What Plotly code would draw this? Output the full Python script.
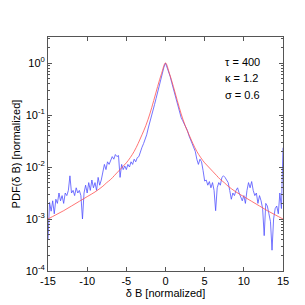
import numpy as np
import plotly.graph_objects as go

# Blue: empirical PDF, read as log10(PDF) at dB = -15 ... 15 step 0.2
blue_db = [round(-15 + 0.2 * i, 1) for i in range(151)]
blue_log10_pdf = [
    -3.40, -2.68, -2.85, -2.65, -2.90, -2.62, -2.70, -2.50, -2.65, -2.55,   # -15.0 .. -13.2
    -2.70, -2.50, -2.55, -2.45, -2.17, -2.50, -2.45, -2.55, -2.40, -2.50,   # -13.0 .. -11.2
    -2.45, -2.55, -3.00, -2.50, -2.35, -2.50, -2.30, -2.45, -2.25, -2.40,   # -11.0 .. -9.2
    -2.30, -2.45, -2.20, -2.35, -2.25, -2.10, -1.95, -2.05, -1.90, -1.95,   # -9.0 .. -7.2
    -1.85, -1.80, -1.85, -1.76, -1.80, -1.78, -2.20, -1.95, -2.05, -1.98,   # -7.0 .. -5.2
    -2.05, -1.95, -2.00, -1.90, -1.95, -1.85, -1.90, -1.82, -1.80, -1.70,   # -5.0 .. -3.2
    -1.62, -1.55, -1.48, -1.38, -1.25, -1.15, -1.05, -0.92, -0.80, -0.68,   # -3.0 .. -1.2
    -0.55, -0.42, -0.30, -0.18, -0.08, 0.00, -0.08, -0.16, -0.26, -0.38,    # -1.0 .. 0.8
    -0.50, -0.62, -0.74, -0.86, -0.98, -1.05, -1.11, -1.17, -1.23, -1.30,   # 1.0 .. 2.8
    -1.40, -1.47, -1.53, -1.60, -1.70, -1.85, -1.95, -1.85, -1.90, -2.07,   # 3.0 .. 4.8
    -2.27, -2.25, -2.35, -2.28, -2.40, -2.30, -2.45, -2.84, -2.40, -2.30,   # 5.0 .. 6.8
    -2.35, -2.20, -2.17, -2.20, -2.25, -2.30, -2.45, -2.62, -2.50, -2.55,   # 7.0 .. 8.8
    -2.45, -2.40, -2.50, -2.58, -2.65, -2.55, -2.70, -2.45, -2.30, -2.40,   # 9.0 .. 10.8
    -2.28, -2.45, -2.55, -2.50, -2.70, -2.55, -2.65, -2.80, -3.32, -2.70,   # 11.0 .. 12.8
    -2.75, -2.90, -3.05, -3.60, -3.00, -2.80, -2.75, -2.90, -2.50, -2.80,   # 13.0 .. 14.8
    -1.63,                                                                   # 15.0
]

# Red: model fit, read as log10(PDF)
red_db = [-15, -14, -13, -12, -11, -10, -9, -8, -7.5, -7, -6.5, -6, -5.5, -5, -4.5,
          -4, -3.5, -3, -2.5, -2, -1.5, -1, -0.5, 0,
          0.5, 1, 1.5, 2, 2.5, 3, 3.5, 4, 4.5, 5, 5.5, 6, 6.5, 7, 7.5,
          8, 9, 10, 11, 12, 13, 14, 15]
red_log10_pdf = [-3.00, -2.92, -2.84, -2.75, -2.66, -2.57, -2.48, -2.37, -2.30, -2.24,
                 -2.16, -2.08, -2.00, -1.92, -1.82, -1.70, -1.55, -1.38, -1.20, -0.98,
                 -0.72, -0.45, -0.20, 0.00,
                 -0.20, -0.45, -0.72, -0.98, -1.20, -1.38, -1.55, -1.70, -1.82, -1.92,
                 -2.00, -2.08, -2.16, -2.24, -2.30, -2.37, -2.48, -2.57, -2.66, -2.75,
                 -2.84, -2.92, -3.00]

x_ticks = [-15, -10, -5, 0, 5, 10, 15]
y_ticks = [1e-4, 1e-3, 1e-2, 1e-1, 1e0]
y_ticktext = ["10<sup>-4</sup>", "10<sup>-3</sup>", "10<sup>-2</sup>",
              "10<sup>-1</sup>", "10<sup>0</sup>"]
y_minor = [m * 10.0 ** e for e in range(-4, 1) for m in range(2, 10)]

params = ["τ = 400", "κ = 1.2", "σ = 0.6"]

blue_pdf = np.power(10.0, blue_log10_pdf)
red_pdf = np.power(10.0, red_log10_pdf)

fig = go.Figure()
fig.add_trace(go.Scatter(x=blue_db, y=blue_pdf, mode="lines",
                         line=dict(color="rgb(80,80,255)", width=0.8),
                         showlegend=False))
fig.add_trace(go.Scatter(x=red_db, y=red_pdf, mode="lines",
                         line=dict(color="rgb(255,80,80)", width=0.8, shape="spline"),
                         showlegend=False))

font = dict(family="Liberation Sans, Arial, sans-serif", size=11, color="black")
axis_common = dict(showgrid=False, zeroline=False, showline=True, linecolor="#555",
                   linewidth=1, mirror="ticks", ticks="inside", tickcolor="#555",
                   ticklen=4, tickfont=font, automargin=False)

fig.update_xaxes(range=[-15, 15], tickvals=x_ticks, ticktext=[str(t) for t in x_ticks],
                 title=dict(text="δ B [normalized]", font=font, standoff=2),
                 **axis_common)
fig.update_yaxes(type="log", range=[-4, 0.5], tickvals=y_ticks, ticktext=y_ticktext,
                 minor=dict(tickvals=y_minor, ticks="inside", ticklen=2, tickcolor="#555"),
                 title=dict(text="PDF(δ B) [normalized]", font=font, standoff=2),
                 **axis_common)

for i, t in enumerate(params):
    fig.add_annotation(x=0.745, y=0.893 - i * 0.07, xref="paper", yref="paper",
                       text=t, showarrow=False, xanchor="left", yanchor="middle",
                       font=font)

fig.update_layout(width=305, height=305, margin=dict(l=40, r=30, t=29, b=42),
                  paper_bgcolor="white", plot_bgcolor="white", font=font)

fig.write_html("out.html")
